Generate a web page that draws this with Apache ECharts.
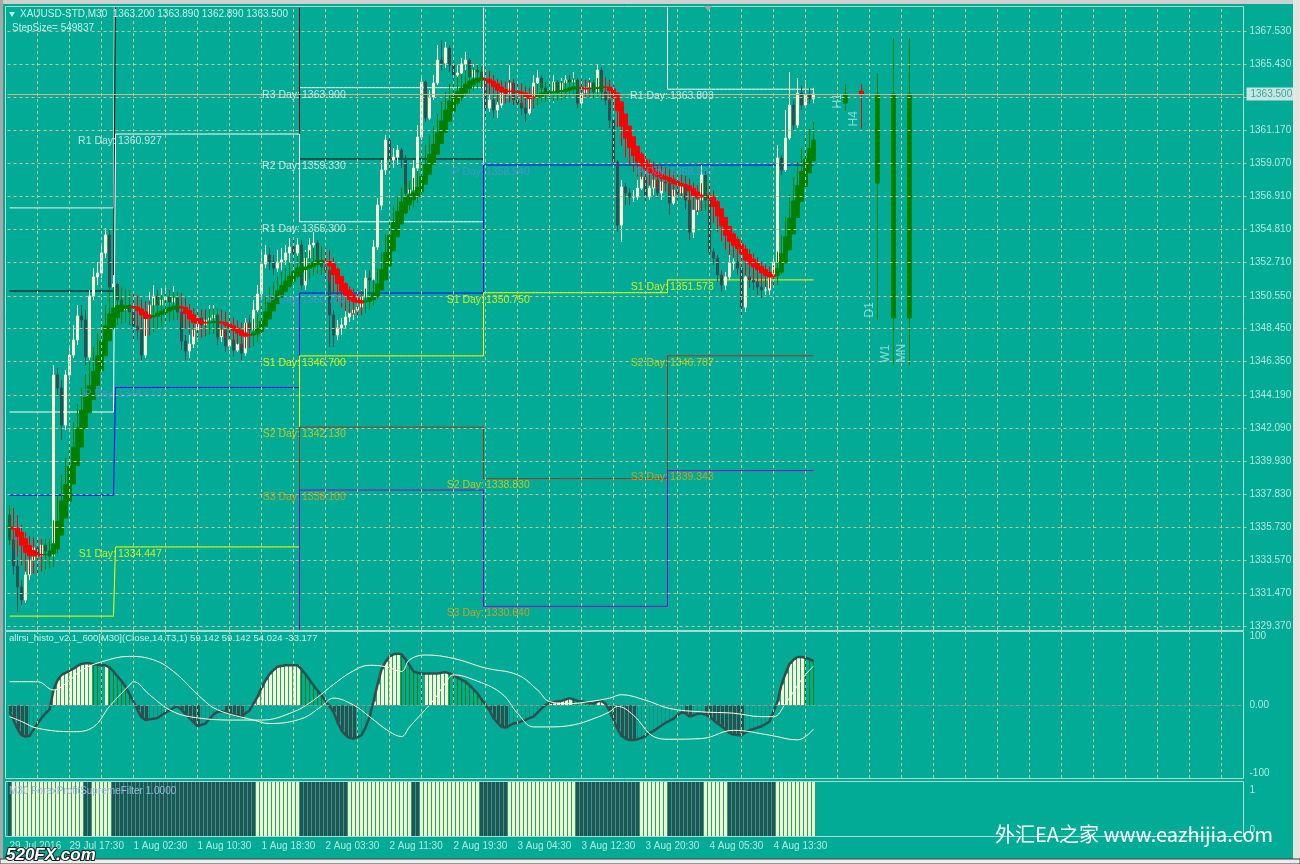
<!DOCTYPE html>
<html><head><meta charset="utf-8">
<script src="https://cdn.jsdelivr.net/npm/echarts@6/dist/echarts.min.js"></script>
<style>html,body{margin:0;padding:0;background:#02AB96;overflow:hidden}#c{width:1300px;height:864px}</style>
</head><body><div id="c"></div>
<script>
// ---------------- DATA ----------------
const firstOpen = 1336.49;
const closes = [
1334.89,1333.22,1331.88,1331.04,1332.65,1333.61,1334.38,1333.86,1334.57,1334.18,
1333.86,1345.47,1344.64,1342.26,1345.47,1346.75,1347.72,1349.26,1349.00,1346.63,
1350.54,1351.76,1352.01,1353.30,1354.45,1351.11,1351.31,1350.28,1349.64,1349.96,
1349.51,1348.61,1348.36,1346.75,1349.38,1349.96,1350.54,1349.96,1350.28,1350.47,
1350.15,1350.41,1349.51,1347.65,1347.01,1347.46,1348.36,1349.13,1348.68,1349.00,
1349.13,1349.32,1347.91,1348.36,1347.33,1347.72,1347.07,1347.46,1346.88,1348.81,
1348.36,1349.64,1350.67,1352.59,1353.17,1352.72,1352.33,1352.72,1352.85,1353.30,
1353.68,1353.30,1353.81,1351.24,1352.97,1353.81,1353.94,1352.65,1352.40,1352.20,
1349.32,1348.04,1348.49,1348.68,1349.19,1349.45,1349.64,1349.83,1350.47,1351.69,
1351.56,1353.68,1356.37,1358.62,1360.54,1359.26,1359.45,1359.90,1359.39,1357.14,
1357.34,1358.75,1360.73,1364.26,1361.95,1363.30,1364.20,1365.67,1365.48,1366.44,
1365.35,1364.71,1364.84,1365.42,1365.67,1364.58,1365.03,1364.90,1364.52,1362.59,
1363.11,1362.47,1362.79,1363.56,1363.43,1364.20,1363.11,1362.91,1362.59,1362.27,
1363.30,1364.20,1364.52,1363.88,1363.62,1363.56,1364.26,1363.62,1364.20,1364.39,
1364.26,1364.39,1362.91,1363.56,1363.94,1364.20,1363.62,1365.03,1363.62,1363.11,
1361.82,1359.13,1355.09,1357.53,1357.14,1356.89,1356.89,1357.46,1358.17,1356.89,
1357.46,1357.98,1357.14,1357.85,1357.78,1356.50,1357.34,1357.14,1357.66,1356.69,
1354.64,1356.05,1356.69,1358.30,1356.69,1353.36,1352.97,1351.88,1351.24,1351.76,
1352.65,1352.72,1352.33,1349.83,1351.76,1351.56,1351.44,1351.11,1350.92,1350.92,
1351.76,1352.72,1359.39,1358.62,1360.67,1362.79,1361.50,1363.56,1362.79,1363.43,
1363.20,1363.50];
const highs = [
1337.13,1335.40,1333.61,1332.32,1333.29,1334.25,1334.89,1334.70,1335.02,1334.89,
1334.57,1346.11,1345.92,1345.15,1345.79,1347.40,1348.68,1349.96,1349.96,1349.64,
1350.92,1352.33,1352.72,1353.81,1354.90,1354.77,1351.88,1351.05,1350.60,1350.79,
1350.28,1349.96,1349.32,1349.00,1349.96,1350.79,1351.24,1350.92,1351.05,1351.24,
1350.92,1351.18,1350.60,1350.28,1348.04,1348.04,1348.87,1349.64,1349.51,1349.64,
1349.96,1349.96,1349.64,1349.13,1348.68,1348.36,1348.04,1348.17,1348.04,1349.13,
1349.32,1350.28,1351.24,1353.49,1353.81,1353.62,1353.17,1353.49,1353.62,1353.81,
1354.26,1354.13,1354.26,1354.13,1353.49,1354.26,1354.64,1354.13,1353.17,1352.97,
1352.72,1349.64,1349.00,1349.13,1349.64,1349.96,1350.28,1350.41,1350.92,1352.20,
1352.20,1354.13,1356.82,1359.26,1360.86,1360.67,1360.03,1360.22,1360.03,1359.58,
1357.98,1359.26,1361.50,1364.71,1364.39,1363.75,1364.71,1366.63,1366.95,1366.83,
1366.63,1365.54,1365.35,1365.80,1366.19,1365.80,1365.42,1365.35,1365.16,1364.71,
1363.62,1363.24,1363.24,1364.07,1364.07,1365.35,1364.39,1363.36,1363.24,1362.98,
1363.75,1364.71,1365.03,1364.71,1364.07,1363.94,1364.71,1364.39,1364.52,1364.71,
1364.71,1364.90,1364.39,1363.88,1364.39,1364.52,1364.39,1365.35,1365.22,1363.88,
1363.24,1361.95,1359.26,1357.98,1357.78,1357.46,1357.34,1357.98,1358.62,1358.49,
1357.98,1358.49,1358.30,1358.30,1358.23,1357.98,1357.78,1357.66,1358.10,1357.78,
1356.82,1356.37,1357.21,1358.94,1358.62,1356.82,1353.62,1353.17,1352.20,1352.08,
1353.17,1353.17,1352.97,1352.72,1352.20,1352.08,1351.88,1351.69,1351.44,1351.56,
1352.20,1352.97,1360.22,1359.58,1362.47,1364.90,1363.11,1364.52,1364.07,1364.39,
1363.88,1363.89];
const lows = [
1334.57,1332.65,1330.27,1330.72,1330.85,1332.32,1333.29,1332.97,1333.61,1333.61,
1333.29,1333.61,1344.19,1341.30,1341.94,1345.15,1346.56,1347.40,1348.36,1346.11,
1346.43,1350.28,1351.24,1351.69,1352.97,1350.79,1350.28,1349.32,1349.00,1349.32,
1348.68,1347.72,1347.72,1346.43,1346.56,1349.00,1349.51,1349.32,1349.32,1349.64,
1349.51,1349.64,1349.00,1347.07,1346.43,1346.56,1347.20,1347.72,1348.04,1348.36,
1348.36,1348.68,1347.40,1347.59,1346.95,1347.07,1346.63,1346.95,1346.43,1346.69,
1347.72,1348.04,1349.51,1350.41,1352.33,1352.20,1351.88,1352.08,1352.20,1352.53,
1352.72,1352.85,1352.97,1350.92,1350.92,1352.72,1353.17,1352.33,1351.88,1351.56,
1347.27,1347.27,1347.72,1348.04,1348.49,1348.87,1349.00,1349.13,1349.51,1350.28,
1351.05,1351.24,1353.49,1356.05,1358.30,1358.62,1358.75,1358.94,1358.75,1356.69,
1356.82,1357.02,1358.49,1360.54,1361.70,1361.82,1363.11,1364.07,1365.03,1365.16,
1364.90,1364.26,1364.39,1364.52,1365.03,1364.26,1364.39,1364.39,1364.07,1361.95,
1362.34,1361.95,1361.95,1362.59,1363.11,1363.24,1362.79,1362.59,1362.15,1361.70,
1362.15,1363.11,1364.07,1363.62,1363.24,1363.11,1362.91,1363.24,1363.43,1363.88,
1364.01,1363.75,1362.59,1362.79,1363.43,1363.62,1363.24,1363.62,1363.11,1362.79,
1361.31,1358.75,1354.64,1354.00,1356.37,1356.37,1356.57,1356.69,1357.34,1356.50,
1356.69,1357.02,1356.82,1356.69,1357.34,1355.73,1356.37,1356.69,1356.82,1356.05,
1354.13,1354.26,1355.73,1356.50,1356.37,1352.97,1352.53,1351.44,1350.79,1350.92,
1351.56,1352.20,1351.88,1349.13,1349.51,1351.05,1350.92,1350.60,1350.41,1350.60,
1350.60,1351.44,1352.53,1358.30,1358.49,1360.54,1361.18,1361.31,1362.47,1362.59,
1362.85,1362.89];

// daily pivot levels (5 days shown)
const dayStarts = [0, 27, 73, 119, 165];
const dayEnds   = [26, 72, 118, 164, 201];
const pivotR3 = [1356.19, 1387.41, 1363.900, 1390.97, 1376.03];
const pivotR2 = [1350.86, 1371.15, 1359.330, 1379.05, 1371.17];
const pivotR1 = [1343.10, 1360.927, 1355.300, 1370.86, 1363.803];
const pivotP  = [1337.77, 1344.673, 1350.730, 1358.940, 1358.937];
const pivotS1 = [1330.01, 1334.447, 1346.700, 1350.750, 1351.573];
const pivotS2 = [1324.68, 1318.19, 1342.130, 1338.830, 1346.707];
const pivotS3 = [1316.92, 1307.97, 1338.100, 1330.640, 1339.343];

// price axis
const priceGridValues = [1367.53,1365.43,1363.30,1361.17,1359.07,1356.91,1354.81,1352.71,1350.55,1348.45,1346.35,1344.19,1342.09,1339.93,1337.83,1335.73,1333.57,1331.47,1329.37];
const priceTickLabels = [1367.53,1365.43,1361.17,1359.07,1356.91,1354.81,1352.71,1350.55,1348.45,1346.35,1344.19,1342.09,1339.93,1337.83,1335.73,1333.57,1331.47,1329.37];
const currentPrice = 1363.50;

// time axis
const xLabelIdx = [0,15,31,47,63,79,95,111,127,143,159,175,191];
const xLabels = ['29 Jul 2016','29 Jul 17:30','1 Aug 02:30','1 Aug 10:30','1 Aug 18:30','2 Aug 03:30','2 Aug 11:30','2 Aug 19:30','3 Aug 04:30','3 Aug 12:30','3 Aug 20:30','4 Aug 05:30','4 Aug 13:30'];

// higher time-frame candles
const htfNames = ['H1','H4','D1','W1','MN'];
const htfIdx   = [209, 213, 217, 221, 225];
const htfOpen  = [1362.91, 1363.68, 1357.78, 1349.13, 1349.13];
const htfClose = [1363.50, 1363.50, 1363.50, 1363.50, 1363.50];
const htfLow   = [1362.40, 1361.25, 1349.00, 1346.11, 1346.11];
const htfHigh  = [1364.13, 1364.13, 1364.84, 1367.08, 1367.08];

// allrsi histo
const rsiVals = [
-10,-22,-35,-44,-46,-45,-36,-27,-19,-12,
-7,22,36,44,47,50,53,57,60,61,
61,60,59,58,58,55,49,42,35,27,
16,5,-7,-18,-22,-21,-20,-19,-15,-11,
-8,-4,-2,-7,-13,-19,-25,-31,-29,-27,
-20,-14,-10,-9,-10,-12,-14,-16,-17,-12,
-8,2,12,25,36,45,51,56,57,58,
58,58,58,52,45,37,29,21,14,6,
-2,-10,-25,-37,-44,-48,-49,-47,-44,-33,
-18,5,30,52,63,71,74,75,74,67,
58,49,47,46,46,46,46,46,47,48,
46,44,40,37,34,29,23,17,8,1,
-8,-19,-26,-32,-33,-30,-27,-26,-24,-22,
-19,-17,-11,-5,0,3,4,5,6,8,
10,8,6,5,4,3,2,5,6,2,
-8,-22,-35,-45,-49,-51,-51,-50,-48,-45,
-41,-38,-34,-30,-26,-23,-20,-15,-11,-12,
-17,-15,-13,-12,-14,-17,-22,-27,-31,-36,
-41,-43,-44,-44,-40,-37,-35,-33,-31,-28,
-24,-10,5,30,46,60,66,70,70,69,
67,64];
const rsiLineA = [[0,34],[7,34],[11,22],[15,36],[18,51],[23,63],[30,71],[36,66],[41,49],[48,10],[52,-7],[61,-22],[65,-27],[73,-20],[78,-2],[81,10],[86,0],[90,-17],[95,-39],[98,-46],[100,-32],[106,7],[109,32],[111,44],[116,37],[123,17],[127,-12],[131,-32],[135,-32],[141,-29],[146,-20],[150,-10],[152,-2],[156,-15],[161,-46],[165,-50],[173,-49],[181,-37],[190,-44],[197,-51],[201,-35]];
const rsiLineB = [[0,-17],[3,-24],[7,-34],[16,-39],[21,-32],[25,-2],[30,29],[31,34],[35,15],[40,-7],[45,-17],[56,-22],[63,-22],[71,-10],[76,7],[81,30],[86,50],[90,58],[94,56],[98,49],[100,66],[104,73],[111,68],[119,54],[127,44],[132,22],[135,5],[140,2],[145,5],[150,10],[153,15],[159,7],[165,-5],[173,-10],[181,-12],[188,-17],[191,-17],[194,2],[198,37],[201,57]];

// ForexProfitSupremeFilter state runs: [bar count, state] (1 = up/cream, 0 = down/dark)
const filterRuns = [[1,0],[18,1],[2,0],[5,1],[36,0],[11,1],[12,0],[16,1],[2,0],[15,1],[7,0],[17,1],[16,0],[7,1],[9,0],[6,1],[12,0],[10,1]];

// ---------------- BUILD ----------------
const BG = '#02AB96';
const GRIDC = '#C8C39A';
const AXC = '#B2E9E0';
const FONT = 'Liberation Sans, Arial, sans-serif';
const NSLOT = 309;
const GL = 7.5;
const cats = Array.from({length: NSLOT}, (_, i) => String(i));
const N = closes.length;
const opens = closes.map((c, i) => i === 0 ? firstOpen : closes[i - 1]);
const candleData = closes.map((c, i) => [opens[i], c, lows[i], highs[i]]);

// Heiken Ashi smoothed (indicator computed from the candles)
function smma(a, p) { const o = []; let s = a[0]; for (let i = 0; i < a.length; i++) { s = i === 0 ? a[0] : (s * (p - 1) + a[i]) / p; o.push(s); } return o; }
function lwma2(a) { return a.map((v, i) => i === 0 ? v : (2 * v + a[i - 1]) / 3); }
const mO = smma(opens, 6), mC = smma(closes, 6), mH = smma(highs, 6), mL = smma(lows, 6);
const haO = [], haC = [], haH = [], haL = [];
for (let i = 0; i < N; i++) {
  const c = (mO[i] + mC[i] + mH[i] + mL[i]) / 4;
  const o = i === 0 ? (mO[0] + mC[0]) / 2 : (haO[i - 1] + haC[i - 1]) / 2;
  haO.push(o); haC.push(c); haH.push(Math.max(mH[i], o, c)); haL.push(Math.min(mL[i], o, c));
}
const sO = lwma2(haO), sC = lwma2(haC), sH = lwma2(haH), sL = lwma2(haL);
const haData = sO.map((o, i) => [o, sC[i], sL[i], sH[i]]);

// pivot step lines
function pivotSeries(levels) {
  const d = [];
  for (let k = 0; k < dayStarts.length; k++) for (let i = dayStarts[k]; i <= dayEnds[k]; i++) d.push([i, levels[k]]);
  return d;
}
const pivotDefs = [
  {name: 'R3', lv: pivotR3, line: '#F4F4F4', txt: '#F4F4F4'},
  {name: 'R2', lv: pivotR2, line: '#000000', txt: '#F4F4F4'},
  {name: 'R1', lv: pivotR1, line: '#FFFFFF', txt: '#F4F4F4'},
  {name: 'P',  lv: pivotP,  line: '#0000FF', txt: '#5A8FDF'},
  {name: 'S1', lv: pivotS1, line: '#FFFF00', txt: '#FFFF00'},
  {name: 'S2', lv: pivotS2, line: '#A3321E', txt: '#EFD000'},
  {name: 'S3', lv: pivotS3, line: '#9400D3', txt: '#F5A000'}
];
const yMin = 1329.12, yMax = 1369.01;
const prefixItems = [], valueItems = [];
pivotDefs.forEach(p => {
  for (let k = 1; k < dayStarts.length; k++) {
    const v = p.lv[k];
    if (v > yMin + 0.2 && v < yMax - 0.2) {
      prefixItems.push({value: [dayStarts[k], v], label: {color: p.txt, formatter: p.name + ' Day:'}});
      valueItems.push({value: [dayStarts[k], v], label: {color: p.txt, formatter: v.toFixed(3)}});
    }
  }
});

// histogram: strong bars (moving away from zero) are wide, weak bars thin
const rsiStrong = [], rsiWeak = [];
rsiVals.forEach((v, i) => {
  const prev = i === 0 ? v : rsiVals[i - 1];
  const strong = v >= 0 ? v >= prev : v <= prev;
  const col = v >= 0 ? (strong ? '#FBF6CC' : '#008000') : (strong ? '#2F4F4F' : '#12907F');
  if (strong) { rsiStrong.push({value: v, itemStyle: {color: col}}); rsiWeak.push('-'); }
  else { rsiWeak.push({value: v, itemStyle: {color: col}}); rsiStrong.push('-'); }
});

// filter states
const filterStates = [];
filterRuns.forEach(([n, s]) => { for (let j = 0; j < n; j++) filterStates.push(s); });
const fCol = s => s ? '#F7F1C4' : '#2F4F4F';

const vGridIdx = [];
for (let i = 7; i < NSLOT; i += 8) vGridIdx.push(i);
const xLabelMap = {};
xLabelIdx.forEach((k, j) => { xLabelMap[k] = xLabels[j]; });

const dashStyle = {type: [3, 3], color: GRIDC, width: 1};

const htfData = htfIdx.map((x, j) => [x, htfOpen[j], htfClose[j], htfLow[j], htfHigh[j]]);

const option = {
  backgroundColor: BG,
  animation: false,
  grid: [
    {left: GL, top: 8, width: 1236, height: 622},
    {left: GL, top: 632, width: 1236, height: 146},
    {left: GL, top: 782, width: 1236, height: 54}
  ],
  xAxis: [0, 1, 2].map(g => ({
    type: 'category', gridIndex: g, data: cats, boundaryGap: true,
    axisLine: {show: false},
    axisTick: g === 2 ? {show: true, alignWithLabel: true, interval: (i) => xLabelMap[i] !== undefined, length: 3, lineStyle: {color: AXC}} : {show: false},
    axisLabel: g === 2 ? {show: true, interval: (i) => xLabelMap[i] !== undefined, formatter: (v, i) => xLabelMap[i] || '', color: AXC, fontSize: 10, fontFamily: FONT, align: 'left', margin: 5} : {show: false},
    splitLine: {show: false}
  })),
  yAxis: [
    {type: 'value', gridIndex: 0, position: 'right', min: yMin, max: yMax,
     axisLine: {show: false}, splitLine: {show: false},
     axisTick: {show: true, customValues: priceGridValues, length: 3, lineStyle: {color: GRIDC}},
     axisLabel: {show: true, customValues: priceTickLabels, formatter: v => v.toFixed(3), color: AXC, fontSize: 10, fontFamily: FONT, margin: 6}},
    {type: 'value', gridIndex: 1, position: 'right', min: -106.6, max: 106.6,
     axisLine: {show: false}, splitLine: {show: false}, axisTick: {show: false},
     axisLabel: {show: true, customValues: [100, 0, -100], formatter: v => v === 0 ? '0.00' : String(v), color: AXC, fontSize: 10, fontFamily: FONT, margin: 6}},
    {type: 'value', gridIndex: 2, position: 'right', min: -0.15, max: 1.2,
     axisLine: {show: false}, splitLine: {show: false}, axisTick: {show: false},
     axisLabel: {show: true, customValues: [1, 0], formatter: v => String(v), color: AXC, fontSize: 10, fontFamily: FONT, margin: 6}}
  ],
  series: [
    // main grid lines + current price line
    {type: 'line', xAxisIndex: 0, yAxisIndex: 0, data: [], z: 1, silent: true,
     markLine: {silent: true, symbol: 'none', animation: false, label: {show: false}, lineStyle: dashStyle,
       data: vGridIdx.map(i => ({xAxis: i})).concat(priceGridValues.map(v => ({yAxis: v})))}},
    {type: 'line', xAxisIndex: 0, yAxisIndex: 0, data: [], z: 6, silent: true,
     markLine: {silent: true, symbol: 'none', animation: false,
       data: [{yAxis: currentPrice, lineStyle: {type: 'solid', color: '#C9B88E', width: 1},
               label: {show: true, position: 'end', distance: 3, formatter: currentPrice.toFixed(3), color: '#4E9E95', backgroundColor: '#C3E8E2', padding: [2, 4, 1, 4], fontSize: 10, fontFamily: FONT}}]}},
    // pivots
    ...pivotDefs.map(p => ({type: 'line', xAxisIndex: 0, yAxisIndex: 0, data: pivotSeries(p.lv), step: 'middle', symbol: 'none', clip: true, z: 2, silent: true,
       lineStyle: {color: p.line, width: 1}})),
    // candles
    {type: 'candlestick', xAxisIndex: 0, yAxisIndex: 0, data: candleData, barWidth: 3, z: 3, silent: true,
     itemStyle: {color: '#FBF6CF', color0: '#2F4F4F', borderColor: '#FBF6CF', borderColor0: '#2F4F4F', borderWidth: 1}},
    // heiken ashi smoothed
    {type: 'candlestick', xAxisIndex: 0, yAxisIndex: 0, data: haData, barWidth: 5, z: 4, silent: true,
     itemStyle: {color: '#008000', color0: '#FF0000', borderColor: '#008000', borderColor0: '#FF0000', borderWidth: 1}},
    // higher timeframe candles
    {type: 'candlestick', xAxisIndex: 0, yAxisIndex: 0, data: htfData, encode: {x: 0, y: [1, 2, 3, 4]}, barWidth: 5, z: 4, silent: true,
     itemStyle: {color: '#008000', color0: '#FF0000', borderColor: '#008000', borderColor0: '#FF0000', borderWidth: 1}},
    {type: 'scatter', xAxisIndex: 0, yAxisIndex: 0, data: htfIdx.map((x, j) => [x, htfLow[j]]), symbolSize: 1, z: 5, silent: true,
     itemStyle: {color: 'rgba(0,0,0,0)'},
     label: {show: true, formatter: p => htfNames[p.dataIndex], position: [-7, -2], rotate: 90, align: 'left', verticalAlign: 'middle', color: '#A6E4EA', fontSize: 12, fontFamily: FONT}},
    // pivot labels
    {type: 'scatter', xAxisIndex: 0, yAxisIndex: 0, data: prefixItems, symbolSize: 1, z: 5, silent: true, itemStyle: {color: 'rgba(0,0,0,0)'},
     label: {show: true, position: 'left', distance: 1, offset: [0, 7], fontSize: 10.5, fontFamily: FONT}},
    {type: 'scatter', xAxisIndex: 0, yAxisIndex: 0, data: valueItems, symbolSize: 1, z: 5, silent: true, itemStyle: {color: 'rgba(0,0,0,0)'},
     label: {show: true, position: 'right', distance: 0, offset: [0, 7], fontSize: 10.5, fontFamily: FONT}},

    // panel 1
    {type: 'line', xAxisIndex: 1, yAxisIndex: 1, data: [], z: 1, silent: true,
     markLine: {silent: true, symbol: 'none', animation: false, label: {show: false}, lineStyle: dashStyle,
       data: vGridIdx.map(i => ({xAxis: i})).concat([{yAxis: 0, lineStyle: {type: [4, 2], color: '#8E9A96', width: 1}}])}},
    {type: 'bar', xAxisIndex: 1, yAxisIndex: 1, data: rsiStrong, barWidth: 3, barGap: '-100%', z: 2, silent: true},
    {type: 'bar', xAxisIndex: 1, yAxisIndex: 1, data: rsiWeak, barWidth: 1, barGap: '-100%', z: 2, silent: true},
    {type: 'line', xAxisIndex: 1, yAxisIndex: 1, data: rsiVals, symbol: 'none', z: 3, silent: true, lineStyle: {color: '#2F4F4F', width: 2.5}},
    {type: 'line', xAxisIndex: 1, yAxisIndex: 1, data: rsiLineA, symbol: 'none', smooth: 0.4, z: 4, silent: true, lineStyle: {color: '#FFFFE0', width: 1}},
    {type: 'line', xAxisIndex: 1, yAxisIndex: 1, data: rsiLineB, symbol: 'none', smooth: 0.4, z: 4, silent: true, lineStyle: {color: '#FFFFE0', width: 1}},

    // panel 2
    {type: 'bar', xAxisIndex: 2, yAxisIndex: 2, stack: 'flt', barWidth: 3, z: 2, silent: true,
     data: filterStates.map(s => ({value: 1.2, itemStyle: {color: fCol(s)}}))},
    {type: 'bar', xAxisIndex: 2, yAxisIndex: 2, stack: 'flt', barWidth: 3, z: 2, silent: true,
     data: filterStates.map(s => ({value: -0.15, itemStyle: {color: fCol(s)}}))}
  ],
  graphic: [
    // window chrome
    {type: 'rect', shape: {x: 0, y: 0, width: 1300, height: 4}, style: {fill: '#CFCFCF'}, z: 50},
    {type: 'rect', shape: {x: 0, y: 0, width: 3, height: 864}, style: {fill: '#A8A8A8'}, z: 50},
    {type: 'rect', shape: {x: 1293, y: 0, width: 7, height: 864}, style: {fill: '#E6E6E0'}, z: 50},
    {type: 'rect', shape: {x: 0, y: 859, width: 1300, height: 5}, style: {fill: '#EDEDED', stroke: '#404040', lineWidth: 1}, z: 50},
    // panel frames
    {type: 'rect', shape: {x: 5.5, y: 6.5, width: 1238, height: 624}, style: {fill: null, stroke: '#A3DED4', lineWidth: 1}, z: 40},
    {type: 'rect', shape: {x: 5.5, y: 631.5, width: 1238, height: 147}, style: {fill: null, stroke: '#A3DED4', lineWidth: 1}, z: 40},
    {type: 'rect', shape: {x: 5.5, y: 781.5, width: 1238, height: 55}, style: {fill: null, stroke: '#A3DED4', lineWidth: 1}, z: 40},
    // header texts
    {type: 'polygon', shape: {points: [[9, 12], [15, 12], [12, 17]]}, style: {fill: '#BDEFE6'}, z: 60},
    {type: 'text', left: 20, top: 9, style: {text: 'XAUUSD-STD,M30  1363.200 1363.890 1362.890 1363.500', fill: '#C6F2EA', font: '10px ' + FONT}, z: 60},
    {type: 'text', left: 12, top: 23, style: {text: 'StepSize= 549837', fill: '#C6F2EA', font: '10px ' + FONT}, z: 60},
    {type: 'polygon', shape: {points: [[704, 6], [712, 6], [708, 11]]}, style: {fill: '#9AA6A2'}, z: 60},
    {type: 'text', left: 9, top: 633, style: {text: 'allrsi_histo_v2.1_600[M30](Close,14,T3,1) 59.142 59.142 54.024 -33.177', fill: '#C6F2EA', font: '9.5px ' + FONT}, z: 60},
    {type: 'text', left: 9, top: 786, style: {text: 'M30 ForexProfitSupremeFilter 1.0000', fill: '#9CB8D8', font: '10px ' + FONT}, z: 60},
    // watermarks
    {type: 'text', left: 995, top: 824, style: {text: '外汇EA之家 www.eazhijia.com', fill: '#FFFFFF', font: '20px "Noto Sans CJK SC", sans-serif', shadowColor: 'rgba(0,0,0,0.35)', shadowBlur: 2}, z: 70},
    {type: 'text', left: 5, top: 846, style: {text: '520FX.com', fill: '#FFFFFF', stroke: '#1A1A1A', lineWidth: 2, font: 'italic bold 17px ' + FONT}, z: 70}
  ]
};
const chart = echarts.init(document.getElementById('c'), null, {renderer: 'canvas', width: 1300, height: 864});
chart.setOption(option);
</script></body></html>
